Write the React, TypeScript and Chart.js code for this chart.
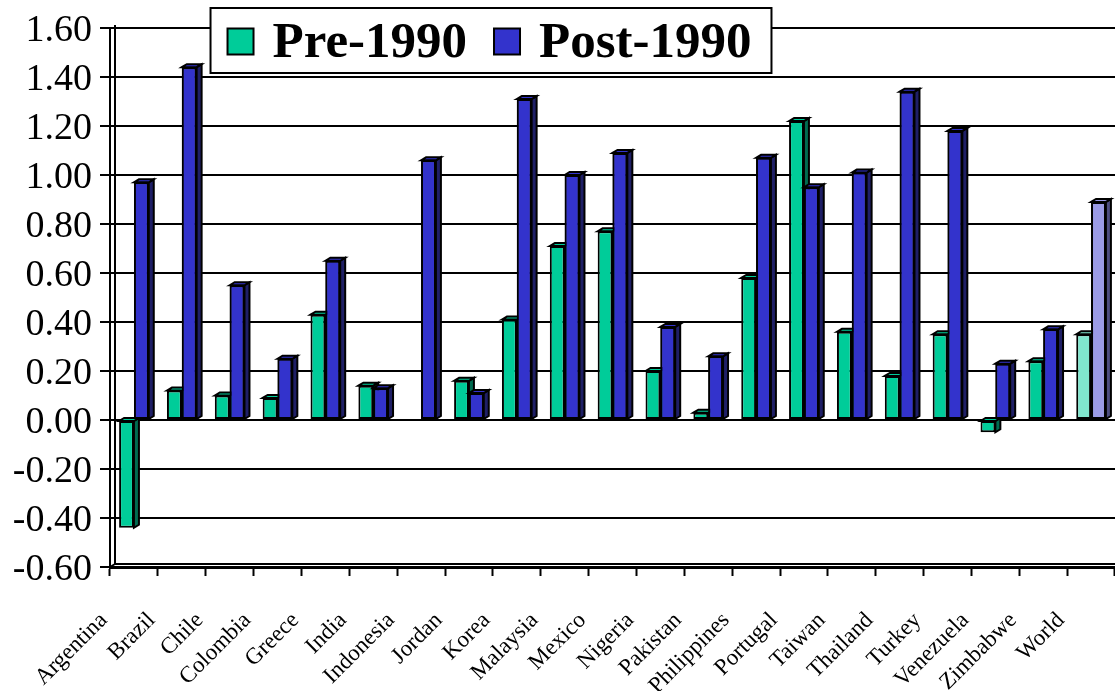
import React, { useEffect, useRef } from 'react';
import { Chart, registerables } from 'chart.js';

Chart.register(...registerables);

const categories = [
  'Argentina', 'Brazil', 'Chile', 'Colombia', 'Greece', 'India', 'Indonesia',
  'Jordan', 'Korea', 'Malaysia', 'Mexico', 'Nigeria', 'Pakistan', 'Philippines',
  'Portugal', 'Taiwan', 'Thailand', 'Turkey', 'Venezuela', 'Zimbabwe', 'World',
];
const seriesLabels = ['Pre-1990', 'Post-1990'];
const pre1990: (number | null)[] = [
  -0.44, 0.12, 0.10, 0.09, 0.43, 0.14, null, 0.16, 0.41, 0.71, 0.77,
  0.20, 0.03, 0.58, 1.22, 0.36, 0.18, 0.35, -0.05, 0.24, 0.35,
];
const post1990: (number | null)[] = [
  0.97, 1.44, 0.55, 0.25, 0.65, 0.13, 1.06, 0.11, 1.31, 1.00, 1.09,
  0.38, 0.26, 1.07, 0.95, 1.01, 1.34, 1.18, 0.23, 0.37, 0.89,
];
const yMin = -0.6;
const yMax = 1.6;
const yStep = 0.2;

// styles
const FONT = '"Liberation Serif", "Times New Roman", serif';
const preFront = '#00CC99';
const preSide = '#006B50';
const preFrontHighlight = '#80E6CE';
const preSideHighlight = '#408070';
const postFront = '#3333CC';
const postSide = '#1F1F66';
const postFrontHighlight = '#9B9BE6';
const postSideHighlight = '#4D4D80';
const highlightLabel = 'World';
const DX = 5;
const DY = 3;

const colorsFor = (front: string, hi: string) =>
  categories.map((c) => (c === highlightLabel ? hi : front));

const frontColors = [colorsFor(preFront, preFrontHighlight), colorsFor(postFront, postFrontHighlight)];
const sideColors = [colorsFor(preSide, preSideHighlight), colorsFor(postSide, postSideHighlight)];
const legendColors = [preFront, postFront];

function drawFaces(ctx: CanvasRenderingContext2D, el: any, front: string, side: string) {
  const { x, y, base, width } = el.getProps(['x', 'y', 'base', 'width'], true);
  if (!isFinite(y) || !isFinite(base)) return;
  const left = x - width / 2;
  const right = x + width / 2;
  const top = Math.min(y, base);
  const bottom = Math.max(y, base);
  ctx.lineWidth = 2;
  ctx.lineJoin = 'miter';
  ctx.strokeStyle = '#000';
  ctx.beginPath();
  ctx.moveTo(right, top);
  ctx.lineTo(right + DX, top - DY);
  ctx.lineTo(right + DX, bottom - DY);
  ctx.lineTo(right, bottom);
  ctx.closePath();
  ctx.fillStyle = side;
  ctx.fill();
  ctx.stroke();
  ctx.beginPath();
  ctx.moveTo(left, top);
  ctx.lineTo(left + DX, top - DY);
  ctx.lineTo(right + DX, top - DY);
  ctx.lineTo(right, top);
  ctx.closePath();
  ctx.fillStyle = front;
  ctx.fill();
  ctx.stroke();
}

const bar3d = {
  id: 'bar3d',
  beforeDatasetsDraw(chart: any) {
    const { ctx, chartArea } = chart;
    ctx.save();
    ctx.strokeStyle = '#000';
    ctx.lineWidth = 2;
    ctx.beginPath();
    ctx.moveTo(chartArea.left + DX, chartArea.top - DY);
    ctx.lineTo(chartArea.left + DX, chartArea.bottom - DY);
    ctx.lineTo(chartArea.right, chartArea.bottom - DY);
    ctx.moveTo(chartArea.left, chartArea.bottom);
    ctx.lineTo(chartArea.left + DX, chartArea.bottom - DY);
    ctx.stroke();
    ctx.restore();
  },
  afterDatasetsDraw(chart: any) {
    const ctx = chart.ctx;
    const metas = [chart.getDatasetMeta(0), chart.getDatasetMeta(1)];
    ctx.save();
    for (let i = 0; i < categories.length; i++) {
      metas.forEach((meta: any, d: number) => {
        const v = chart.data.datasets[d].data[i];
        if (v === null || v === undefined) return;
        const el = meta.data[i];
        if (!el) return;
        if (d > 0) el.draw(ctx);
        drawFaces(ctx, el, frontColors[d][i], sideColors[d][i]);
      });
    }
    ctx.restore();
  },
  afterDraw(chart: any) {
    const ctx: CanvasRenderingContext2D = chart.ctx;
    ctx.save();
    ctx.font = `bold 51px ${FONT}`;
    const sw = 26;
    const padL = 17;
    const gapSwatch = 19;
    const gapItem = 27;
    const padR = 20;
    const widths = seriesLabels.map((l) => ctx.measureText(l).width);
    const total = padL + widths.reduce((a, w) => a + sw + gapSwatch + w, 0) + gapItem * (seriesLabels.length - 1) + padR;
    const cx = 491;
    const boxTop = 8;
    const boxH = 65;
    const boxLeft = cx - total / 2;
    ctx.fillStyle = '#fff';
    ctx.fillRect(boxLeft, boxTop, total, boxH);
    ctx.strokeStyle = '#000';
    ctx.lineWidth = 2;
    ctx.strokeRect(boxLeft, boxTop, total, boxH);
    let xPos = boxLeft + padL;
    const midY = boxTop + boxH / 2 + 1;
    seriesLabels.forEach((label, i) => {
      ctx.fillStyle = legendColors[i];
      ctx.fillRect(xPos, midY - sw / 2, sw, sw);
      ctx.lineWidth = 2;
      ctx.strokeRect(xPos, midY - sw / 2, sw, sw);
      xPos += sw + gapSwatch;
      ctx.fillStyle = '#000';
      ctx.textBaseline = 'middle';
      ctx.textAlign = 'left';
      ctx.fillText(label, xPos, midY + 2);
      xPos += widths[i] + gapItem;
    });
    ctx.restore();
  },
};

export default function App() {
  const canvasRef = useRef<HTMLCanvasElement | null>(null);

  useEffect(() => {
    const canvas = canvasRef.current;
    if (!canvas) return;
    const chart = new Chart(canvas, {
      type: 'bar',
      data: {
        labels: categories,
        datasets: [
          {
            label: seriesLabels[0],
            data: pre1990,
            backgroundColor: frontColors[0],
            borderColor: '#000',
            borderWidth: 2,
            borderSkipped: false,
          },
          {
            label: seriesLabels[1],
            data: post1990,
            backgroundColor: frontColors[1],
            borderColor: '#000',
            borderWidth: 2,
            borderSkipped: false,
          },
        ],
      },
      options: {
        responsive: false,
        animation: false,
        events: [],
        layout: { padding: { top: 28, left: 0, right: 0, bottom: 0 } },
        datasets: {
          bar: { categoryPercentage: 0.62, barPercentage: 1.0 },
        },
        plugins: {
          legend: { display: false },
          tooltip: { enabled: false },
          title: { display: false },
        },
        scales: {
          x: {
            afterFit: (scale: any) => {
              scale.height = 124;
              scale.paddingLeft = 0;
              scale.paddingRight = 0;
            },
            grid: {
              offset: true,
              drawOnChartArea: false,
              drawTicks: true,
              tickLength: 9,
              tickWidth: 2,
              tickColor: '#000',
              color: '#000',
            },
            border: { display: true, color: '#000', width: 3 },
            ticks: {
              autoSkip: false,
              minRotation: 45,
              maxRotation: 45,
              labelOffset: -30,
              padding: 31,
              color: '#000',
              font: { family: FONT, size: 23 },
            },
          },
          y: {
            min: yMin,
            max: yMax,
            afterFit: (scale: any) => {
              scale.width = 110;
              scale.paddingTop = 0;
              scale.paddingBottom = 0;
            },
            grid: {
              color: '#000',
              lineWidth: 2,
              drawTicks: true,
              tickLength: 10,
              tickWidth: 2,
              tickColor: '#000',
            },
            border: { display: true, color: '#000', width: 2 },
            ticks: {
              stepSize: yStep,
              autoSkip: false,
              padding: 8,
              labelOffset: 3,
              color: '#000',
              font: { family: FONT, size: 38 },
              callback: (v: any) => Number(v).toFixed(2),
            },
          },
        },
      },
      plugins: [bar3d],
    });
    return () => chart.destroy();
  }, []);

  return (
    <div style={{ position: 'absolute', left: 0, top: 0, width: 1115, height: 691, background: '#fff' }}>
      <canvas ref={canvasRef} width={1115} height={691} style={{ display: 'block' }} />
    </div>
  );
}
